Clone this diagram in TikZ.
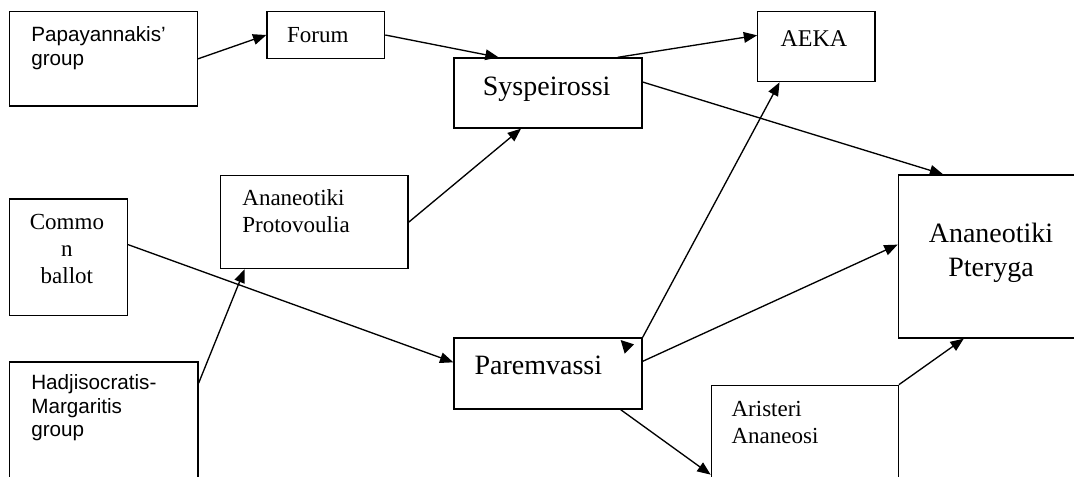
\documentclass[tikz,border=0pt]{standalone}
\usepackage{fontspec}
\setmainfont{Liberation Serif}
\newfontfamily\arialfont{Liberation Sans}
\usetikzlibrary{arrows.meta,calc,fit}

\begin{document}
\begin{tikzpicture}[x=0.75pt,y=0.75pt,yscale=-1,xscale=1,
		box/.style={draw,line width=1pt,inner sep=0pt},
		lbl/.style={anchor=base west,inner sep=0pt,align=left,font=\fontsize{17.25}{20}\selectfont},
		sanslbl/.style={lbl,font=\arialfont\fontsize{15.5}{17.5}\selectfont},
		biglbl/.style={anchor=base west,inner sep=0pt,font=\fontsize{21}{25.5}\selectfont},
		link/.style={line width=1pt,-{Triangle[length=10pt,width=8pt]}}]
		\useasboundingbox (0,0) rectangle (1074,477);
		\clip (0,0) rectangle (1074,477);
		\node[box,fit={(9.6,11.7) (197.3,106)}] (pap) {};
		\node[box,fit={(267,11.7) (384.6,58.3)}] (forum) {};
		\node[box,fit={(454,58) (642,128)}] (sysp) {};
		\node[box,fit={(757.8,11.7) (874.9,81.7)}] (aeka) {};
		\node[box,fit={(9.6,199) (127.4,315.3)}] (common) {};
		\node[box,fit={(220.4,175.7) (408,268.7)}] (proto) {};
		\node[box,fit={(9.6,362) (198,500)}] (hadj) {};
		\node[box,fit={(454,338) (642,409)}] (parem) {};
		\node[box,fit={(711.3,385.3) (898.3,500)}] (aristeri) {};
		\node[box,fit={(898.3,175) (1100,338)}] (pteryga) {};
		\node[sanslbl] (paptext) at ($(pap.north west)+(22.1,54)$) {Papayannakis’\\group};
		\node[lbl] (forumtext) at ($(forum.north west)+(20.5,31)$) {Forum};
		\node[biglbl] (tsysp) at ($(sysp.north west)+(29.3,37.7)$) {Syspeirossi};
		\node[lbl,font=\fontsize{18}{20}\selectfont] (aekatext) at ($(aeka.north west)+(23.2,35)$) {AEKA};
		\node[lbl,align=center,anchor=base] (commontext) at ($(common.north west)+(58,84.7)$) {Commo\\n\\ballot};
		\node[lbl] (prototext) at ($(proto.north west)+(22.4,57.3)$) {Ananeotiki\\Protovoulia};
		\node[sanslbl] (hadjtext) at ($(hadj.north west)+(22.1,75)$) {Hadjisocratis-\\Margaritis\\group};
		\node[biglbl] (paremtext) at ($(parem.north west)+(21,37)$) {Paremvassi};
		\node[lbl] (aristeritext) at ($(aristeri.north west)+(20.7,58.4)$) {Aristeri\\Ananeosi};
		\node[biglbl,align=center,anchor=base] (ptertext) at ($(pteryga.north west)+(93.4,102)$) {Ananeotiki\\Pteryga};
		\draw[link] (pap.east) -- (forum.west);
		\draw[link] (forum.east) -- ($(sysp.north west)+(45.3,0)$);
		\draw[link] ($(sysp.north west)+(164.4,0)$) -- ($(aeka.north west)+(0,24.3)$);
		\draw[link] ($(sysp.north east)+(0,24.7)$) -- ($(pteryga.north west)+(45.5,0)$);
		\draw[link] (proto.east) -- ($(sysp.south west)+(67.7,0)$);
		\draw[link] ($(common.north east)+(0,46.3)$) -- ($(parem.north west)+(0,25)$);
		\draw[link] ($(hadj.north east)+(0,21.7)$) -- ($(proto.south west)+(24.8,0)$);
		\draw[link] (parem.north east) -- ($(aeka.south west)+(22.4,0)$);
		\draw[link] ($(parem.north east)+(0,24)$) -- ($(pteryga.north west)+(0,70.3)$);
		\draw[link] ($(parem.south east)+(-22,0)$) -- ($(aristeri.north west)+(0,90)$);
		\draw[link] (aristeri.north east) -- ($(pteryga.south west)+(66.1,0)$);
		\fill ($(parem.north east)+(-22,2.7)$) -- ($(parem.north east)+(-8.7,7)$) -- ($(parem.north east)+(-18,16.3)$) -- cycle;
	\end{tikzpicture}
\end{document}
